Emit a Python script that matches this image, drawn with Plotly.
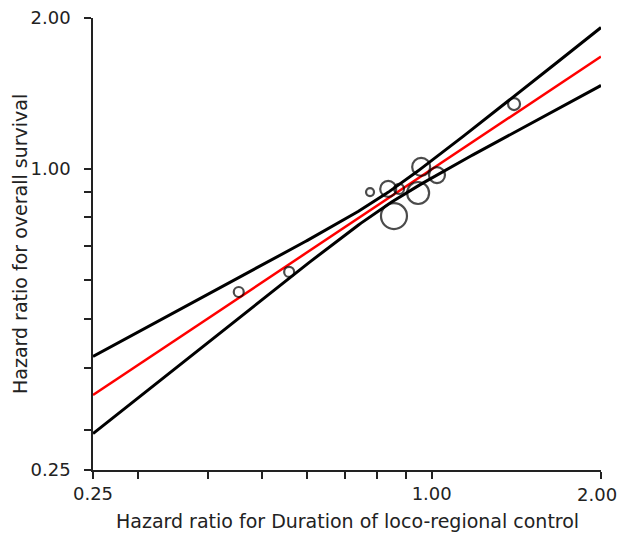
import numpy as np
import plotly.graph_objects as go

# Trial-level hazard ratios (x: loco-regional control duration, y: overall survival)
hr_lrc = [0.454, 0.558, 0.777, 0.837, 0.875, 0.857, 0.946, 0.958, 1.022, 1.401]
hr_os = [0.567, 0.622, 0.898, 0.911, 0.911, 0.804, 0.894, 1.008, 0.971, 1.346]
marker_diam = [10, 10, 8, 16, 10, 26, 22, 18, 16, 12]

# Regression (log-log): y = coef * x^slope ; 95% band half-width in log2 units
reg_coef = 0.997
reg_slope = 0.749
band_center_x = 0.824
band_s0 = 0.040
band_s1 = 0.147

tick_vals = [0.25, 0.3, 0.4, 0.5, 0.6, 0.7, 0.8, 0.9, 1.0, 2.0]
y_tick_text = ["0.25", "", "", "", "", "", "", "", "1.00", "2.00"]
x_tick_text = ["0.25", "", "", "", "", "", "", "", "1.00", ""]
x_edge_label = "2.00"

x_title = "Hazard ratio for Duration of loco-regional control"
y_title = "Hazard ratio for overall survival"

xs = np.exp(np.linspace(np.log(0.25), np.log(2.0), 200))
yfit = reg_coef * xs ** reg_slope
hw = np.sqrt(band_s0 ** 2 + band_s1 ** 2 * np.log2(xs / band_center_x) ** 2)
yup = yfit * 2 ** hw
ylo = yfit / 2 ** hw

fig = go.Figure()
fig.add_trace(go.Scatter(x=xs, y=yup, mode="lines", line=dict(color="black", width=3), hoverinfo="skip"))
fig.add_trace(go.Scatter(x=xs, y=ylo, mode="lines", line=dict(color="black", width=3), hoverinfo="skip"))
fig.add_trace(go.Scatter(x=xs, y=yfit, mode="lines", line=dict(color="#ff0000", width=2.5), hoverinfo="skip"))
fig.add_trace(go.Scatter(
    x=hr_lrc, y=hr_os, mode="markers",
    marker=dict(symbol="circle", size=marker_diam, color="rgba(0,0,0,0)",
                line=dict(color="black", width=2.2)),
))

tick_font = dict(family="DejaVu Sans, sans-serif", size=18, color="#222222")
title_font = dict(family="DejaVu Sans, sans-serif", size=19, color="#222222")

axis_common = dict(
    type="log",
    range=[np.log10(0.25), np.log10(2.0)],
    tickvals=tick_vals,
    ticks="outside", ticklen=7, tickwidth=1.5, tickcolor="#222222",
    showline=True, linecolor="#222222", linewidth=1.5,
    showgrid=False, zeroline=False,
    tickfont=tick_font, automargin=False,
)

fig.update_layout(
    width=618, height=538,
    margin=dict(l=93, r=17, t=18, b=68),
    paper_bgcolor="white", plot_bgcolor="white",
    showlegend=False,
    xaxis=dict(**axis_common, ticktext=x_tick_text),
    yaxis=dict(**axis_common, ticktext=y_tick_text, ticklabelstandoff=10),
    annotations=[
        dict(text=x_edge_label, xref="x", yref="paper", x=np.log10(tick_vals[-1]), y=0,
             xanchor="center", yanchor="middle", yshift=-24, xshift=-4,
             showarrow=False, font=tick_font),
        dict(text=x_title, xref="paper", yref="paper", x=0.5, y=0,
             xanchor="center", yanchor="middle", yshift=-51, showarrow=False, font=title_font),
        dict(text=y_title, xref="paper", yref="paper", x=0, y=0.5, textangle=-90,
             xanchor="center", yanchor="middle", xshift=-73, showarrow=False, font=title_font),
    ],
)

fig.write_html("out.html")
